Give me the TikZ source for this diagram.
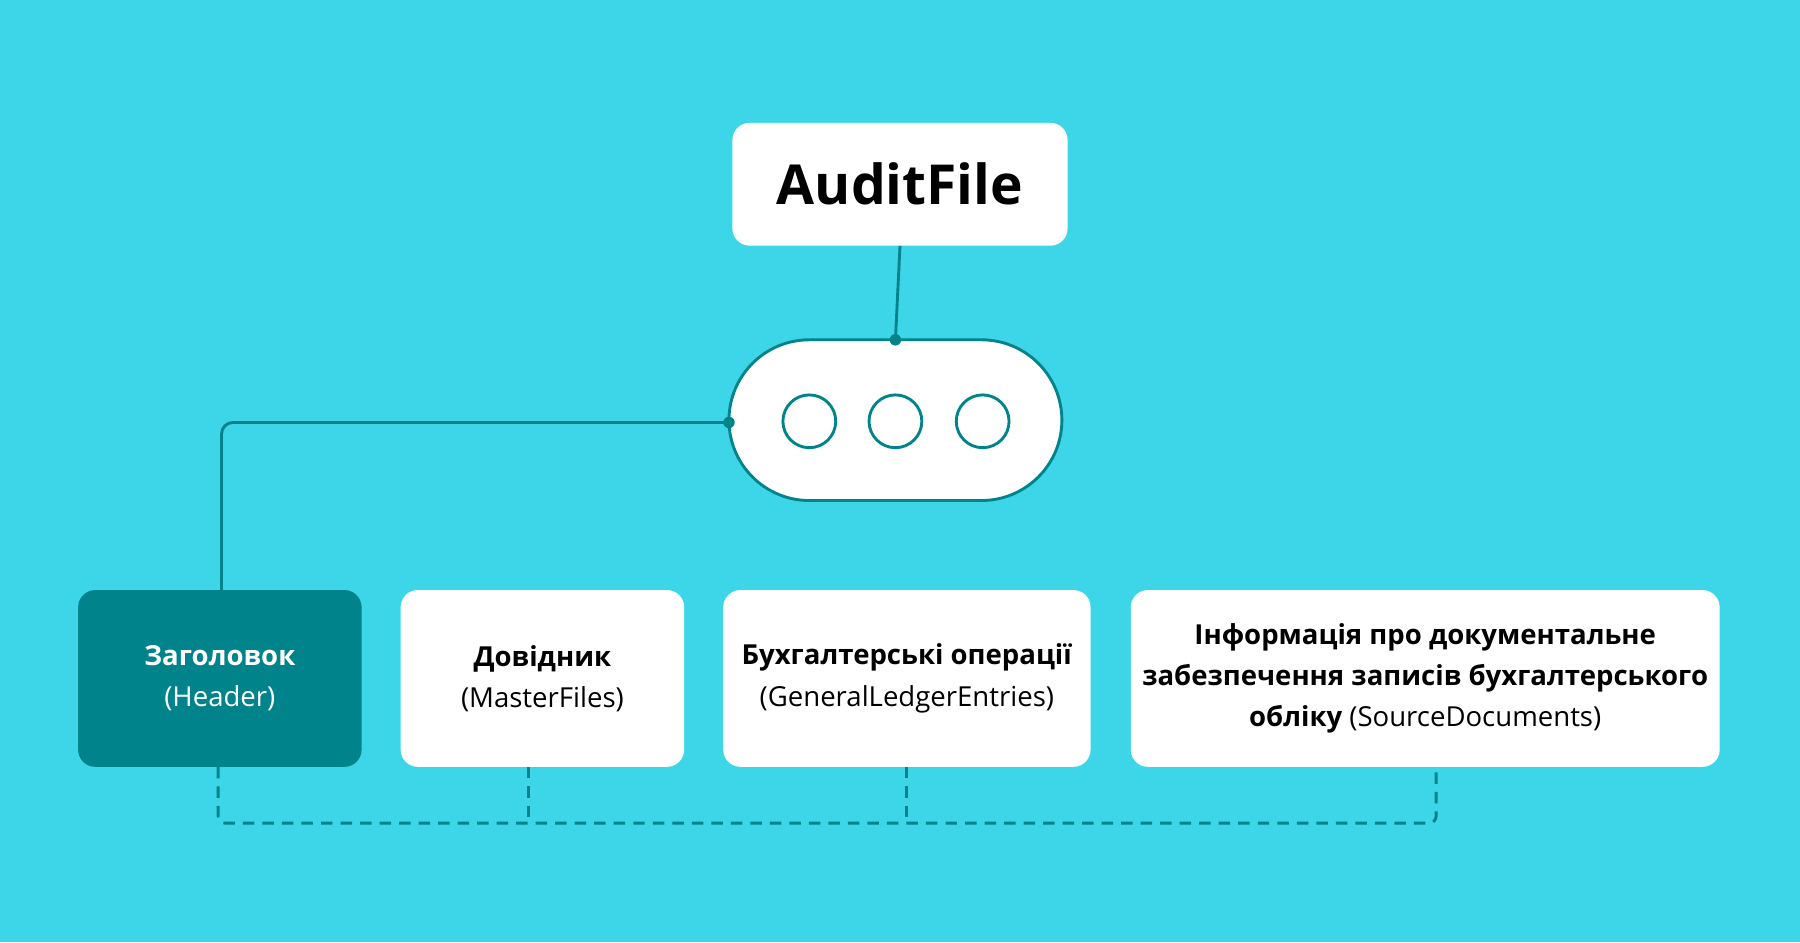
\documentclass[tikz,border=0pt]{standalone}
\usepackage{fontspec}
\setmainfont{Open Sans}
\definecolor{bg}{HTML}{3DD6E9}
\definecolor{teal}{HTML}{00838A}
\begin{document}
\begin{tikzpicture}[x=1pt,y=-1pt,
  box/.style={draw=none,fill=white,rounded corners=15pt,align=center,inner sep=0pt,font=\fontsize{24}{36}\selectfont},
  ln/.style={teal,line width=2.5pt},
  dl/.style={teal,line width=2.5pt,dash pattern=on 10pt off 7pt}]
\fill[bg] (0,0) rectangle (1568,821);
\useasboundingbox (0,0) rectangle (1568,821);
\node[box,minimum width=292pt,minimum height=107pt,font=\fontsize{48}{56}\bfseries\selectfont] (af) at (784,160.5) {AuditFile};
\node[draw=teal,line width=2.5pt,fill=white,rounded corners=70pt,minimum width=290pt,minimum height=140pt,inner sep=0pt] (st) at (780,366) {};
\foreach \x/\n in {705/c1,780/c2,856/c3} \node[circle,draw=teal,line width=2.5pt,minimum size=46pt,inner sep=0pt] (\n) at (\x,367) {};
\node[box,fill=teal,text=white,minimum width=247pt,minimum height=154pt] (h) at (191.5,591) {\textbf{Заголовок}\\(Header)};
\node[box,minimum width=247pt,minimum height=154pt] (m) at (472.5,591) {\textbf{Довідник}\\(MasterFiles)};
\node[box,minimum width=320pt,minimum height=154pt] (g) at (790,591) {\textbf{Бухгалтерські операції}\\(GeneralLedgerEntries)};
\node[box,minimum width=513pt,minimum height=154pt] (s) at (1241.5,591) {\textbf{Інформація про документальне}\\\textbf{забезпечення записів бухгалтерського}\\\textbf{обліку} (SourceDocuments)};
\coordinate (top) at (780,296);
\coordinate (lft) at (635,368);
\draw[ln] (af.south) -- (top);
\fill[teal] (top) circle (5pt) (lft) circle (5pt);
\draw[ln,rounded corners=10pt] (lft) -- (193,368) -- (193,514);
\coordinate (b1) at (190,717);
\coordinate (b4) at (1251,717);
\draw[dl,rounded corners=6pt] (190,668) -- (b1) -- (b4) -- (1251,668);
\draw[dl] (460,668) -- (460,717);
\draw[dl] (790,668) -- (790,717);
\end{tikzpicture}
\end{document}
